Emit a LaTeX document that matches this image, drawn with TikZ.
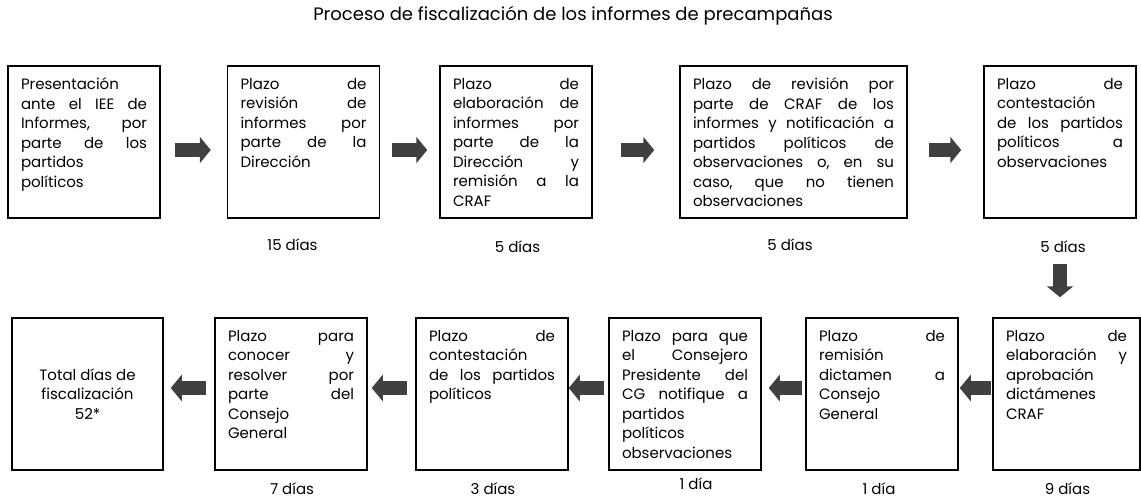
\documentclass[tikz,border=0pt]{standalone}
\usepackage{fontspec}
\setmainfont{Poppins}
\usetikzlibrary{arrows.meta,calc,positioning}
\definecolor{grisflecha}{RGB}{64,64,64}
\newcommand{\caja}[2][126pt]{\parbox[t][128pt][t]{#1}{#2}}

\begin{document}
\begin{tikzpicture}
[x=1pt,y=-1pt,
caja/.style = {draw, line width=1.5pt, inner xsep=13pt, inner ysep=12pt, font=\fontsize{15}{19.5}\selectfont},
dias/.style = {font=\fontsize{15}{18}\selectfont},
flecha/.style = {grisflecha, line width=13.5pt, -{Triangle[length=11pt,width=26pt]}},]
\useasboundingbox (0,0) rectangle (1141,499);
\node (titulo) at (573,16) [font=\fontsize{18}{21}\selectfont] {Proceso de fiscalización de los informes de precampañas};

\node (p1) at (84,142) [caja] {\caja{Presentación\\ante\hfill el\hfill IEE\hfill de\\Informes,\hfill por\\parte\hfill de\hfill los\\partidos\\políticos}};
\node (p2) at (303.5,142) [caja] {\caja{Plazo\hfill de\\revisión\hfill de\\informes\hfill por\\parte\hfill de\hfill la\\Dirección}};
\node (p3) at (516,142) [caja] {\caja{Plazo\hfill de\\elaboración\hfill de\\informes\hfill por\\parte\hfill de\hfill la\\Dirección\hfill y\\remisión\hfill a\hfill la\\CRAF}};
\node (p4) at (793.5,142) [caja] {\caja[201pt]{Plazo\hfill de\hfill revisión\hfill por\\parte\hfill de\hfill CRAF\hfill de\hfill los\\informes\hfill y\hfill notificación\hfill a\\partidos\hfill políticos\hfill de\\observaciones\hfill o,\hfill en\hfill su\\caso,\hfill que\hfill no\hfill tienen\\observaciones}};
\node (p5) at (1060,142) [caja] {\caja{Plazo\hfill de\\contestación\\de\hfill los\hfill partidos\\políticos\hfill a\\observaciones}};

\node (q1) at (87.5,394) [caja, minimum width=151pt, minimum height=152pt, align=center] {Total días de\\fiscalización\\52*};
\node (q2) at (291,394) [caja] {\caja{Plazo\hfill para\\conocer\hfill y\\resolver\hfill por\\parte\hfill del\\Consejo\\General}};
\node (q3) at (492,394) [caja] {\caja{Plazo\hfill de\\contestación\\de\hfill los\hfill partidos\\políticos}};
\node (q4) at (685,394) [caja] {\caja{Plazo\hfill para\hfill que\\el\hfill Consejero\\Presidente\hfill del\\CG\hfill notifique\hfill a\\partidos\\políticos\\observaciones}};
\node (q5) at (882,394) [caja] {\caja{Plazo\hfill de\\remisión\\dictamen\hfill a\\Consejo\\General}};
\node (q6) at (1066.5,394) [caja] {\caja[121pt]{Plazo\hfill de\\elaboración\hfill y\\aprobación\\dictámenes\\CRAF}};

\node (d2) at (292.5,245) [dias] {15 días};
\node (d3) at (517.5,247) [dias] {5 días};
\node (d4) at (790,245) [dias] {5 días};
\node (d5) at (1063,247) [dias] {5 días};
\node (e2) at (292,489) [dias] {7 días};
\node (e3) at (493,489) [dias] {3 días};
\node (e4) at (696,484) [dias] {1 día};
\node (e5) at (879,489) [dias] {1 día};
\node (e6) at (1067.5,489) [dias] {9 días};

\draw[flecha, shorten <=14.5pt, shorten >=16pt] ([yshift=-8pt]p1.east) -- ([yshift=-8pt]p2.west);
\draw[flecha, shorten <=12pt, shorten >=12pt] ([yshift=-8pt]p2.east) -- ([yshift=-8pt]p3.west);
\draw[flecha, shorten <=28pt, shorten >=25pt] ([yshift=-8pt]p3.east) -- ([yshift=-8pt]p4.west);
\draw[flecha, shorten <=21pt, shorten >=22pt] ([yshift=-8pt]p4.east) -- ([yshift=-8pt]p5.west);
\draw[flecha, shorten <=45pt, shorten >=20pt] (p5.south) -- (p5.south |- q6.north);

\draw[flecha, shorten <=1pt, shorten >=1pt] ([yshift=6pt]q6.west) -- ([yshift=6pt]q5.east);
\draw[flecha, shorten <=3pt, shorten >=7pt] ([yshift=6pt]q5.west) -- ([yshift=6pt]q4.east);
\draw[flecha, shorten <=4pt, shorten >=0pt] ([yshift=6pt]q4.west) -- ([yshift=6pt]q3.east);
\draw[flecha, shorten <=8pt, shorten >=4pt] ([yshift=6pt]q3.west) -- ([yshift=6pt]q2.east);
\draw[flecha, shorten <=8pt, shorten >=7pt] ([yshift=6pt]q2.west) -- ([yshift=6pt]q1.east);

\end{tikzpicture}
\end{document}
